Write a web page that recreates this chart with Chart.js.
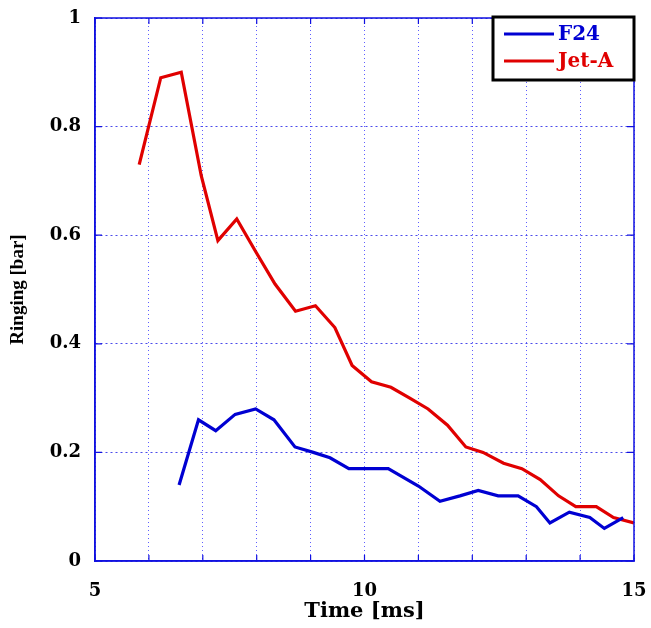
<!DOCTYPE html>
<html><head><meta charset="utf-8">
<script src="https://cdn.jsdelivr.net/npm/chart.js@4.4.1/dist/chart.umd.min.js"></script>
<style>html,body{margin:0;padding:0;background:#fff}#wrap{width:651px;height:628px}</style>
</head><body><div id="wrap"><canvas id="c" width="651" height="628"></canvas></div>
<script>
const seriesNames = ['F24', 'Jet-A'];
const f24Time   = [6.56,6.92,7.24,7.6,7.98,8.32,8.71,9.05,9.36,9.71,10.08,10.44,11.0,11.4,11.77,12.11,12.48,12.85,13.19,13.44,13.8,14.18,14.45,14.8];
const f24Values = [0.14,0.26,0.24,0.27,0.28,0.26,0.21,0.20,0.19,0.17,0.17,0.17,0.138,0.11,0.12,0.13,0.12,0.12,0.10,0.07,0.09,0.08,0.06,0.08];
const jetATime   = [5.82,6.22,6.6,6.97,7.28,7.63,7.98,8.34,8.72,9.09,9.45,9.77,10.13,10.49,10.84,11.18,11.54,11.88,12.2,12.58,12.92,13.26,13.6,13.92,14.3,14.62,15.0];
const jetAValues = [0.73,0.89,0.90,0.71,0.59,0.63,0.57,0.51,0.46,0.47,0.43,0.36,0.33,0.32,0.30,0.28,0.25,0.21,0.20,0.18,0.17,0.15,0.12,0.10,0.10,0.08,0.07];
const xTickLabels = [5, 10, 15];
const yTickLabels = [0, 0.2, 0.4, 0.6, 0.8, 1];

const toPoints = (xs, ys) => xs.map((x, i) => ({x: x, y: ys[i]}));
const BLUE = '#0000d2', RED = '#e00000', AXIS = '#1010e0';

const framePlugin = {
  id: 'frame',
  afterDraw(chart) {
    const {ctx, chartArea: a, scales} = chart;
    ctx.save();
    ctx.strokeStyle = AXIS; ctx.lineWidth = 1.5; ctx.setLineDash([]);
    ctx.strokeRect(a.left, a.top, a.right - a.left, a.bottom - a.top);
    ctx.lineWidth = 1.2;
    ctx.beginPath();
    scales.x.ticks.forEach(t => {
      const px = scales.x.getPixelForValue(t.value);
      ctx.moveTo(px, a.bottom); ctx.lineTo(px, a.bottom - 6);
      ctx.moveTo(px, a.top); ctx.lineTo(px, a.top + 6);
    });
    scales.y.ticks.forEach(t => {
      const py = scales.y.getPixelForValue(t.value);
      ctx.moveTo(a.left, py); ctx.lineTo(a.left + 7, py);
      ctx.moveTo(a.right, py); ctx.lineTo(a.right - 7, py);
    });
    ctx.stroke();
    // legend box
    const w = 141, h = 63;
    const x0 = a.right - w, y0 = a.top - 1;
    ctx.fillStyle = '#fff';
    ctx.fillRect(x0, y0, w, h);
    ctx.strokeStyle = '#000'; ctx.lineWidth = 3;
    ctx.strokeRect(x0, y0, w, h);
    chart.data.datasets.forEach((ds, i) => {
      const y = y0 + 17 + i * 27;
      ctx.strokeStyle = ds.borderColor; ctx.lineWidth = 3;
      ctx.beginPath(); ctx.moveTo(x0 + 11, y); ctx.lineTo(x0 + 61, y); ctx.stroke();
      ctx.fillStyle = ds.borderColor;
      ctx.font = 'bold 20px "DejaVu Serif"';
      ctx.textBaseline = 'middle'; ctx.textAlign = 'left';
      ctx.fillText(ds.label, x0 + 65, y + 1);
    });
    ctx.restore();
  }
};

new Chart(document.getElementById('c'), {
  type: 'line',
  data: {
    datasets: [
      {label: seriesNames[0], data: toPoints(f24Time, f24Values), borderColor: BLUE, backgroundColor: BLUE, borderWidth: 3.2, pointRadius: 0, tension: 0, fill: false},
      {label: seriesNames[1], data: toPoints(jetATime, jetAValues), borderColor: RED, backgroundColor: RED, borderWidth: 3.2, pointRadius: 0, tension: 0, fill: false}
    ]
  },
  options: {
    responsive: false,
    animation: false,
    devicePixelRatio: 1,
    layout: {padding: {top: 18, right: 17, left: 0, bottom: 0}},
    plugins: {legend: {display: false}, tooltip: {enabled: false}},
    scales: {
      x: {
        type: 'linear', min: 5, max: 15,
        afterFit: s => { s.height = 67; s.paddingLeft = 0; s.paddingRight = 0; },
        ticks: {
          stepSize: 1, autoSkip: false, maxRotation: 0, padding: 20, color: '#000',
          font: {family: '"DejaVu Serif"', weight: 'bold', size: 18},
          callback: v => xTickLabels.includes(v) ? String(v) : ''
        },
        grid: {color: 'rgba(40,40,255,0.75)', lineWidth: 1, drawTicks: false},
        border: {display: true, color: AXIS, width: 1.5, dash: [1, 3]},
        title: {display: true, text: 'Time [ms]', color: '#000', padding: {top: 0, bottom: 4},
          font: {family: '"DejaVu Serif"', weight: 'bold', size: 21}}
      },
      y: {
        min: 0, max: 1,
        afterFit: s => { s.width = 95; s.paddingTop = 0; s.paddingBottom = 0; },
        afterBuildTicks: s => { s.ticks = yTickLabels.map(v => ({value: v})); },
        ticks: {
          padding: 14, color: '#000',
          font: {family: '"DejaVu Serif"', weight: 'bold', size: 18},
          callback: v => String(v)
        },
        grid: {color: 'rgba(30,30,230,0.8)', lineWidth: 1, drawTicks: false},
        border: {display: true, color: AXIS, width: 1.5, dash: [2, 3]},
        title: {display: true, text: 'Ringing [bar]', color: '#000', padding: {top: 7, bottom: 0},
          font: {family: '"Liberation Serif"', weight: 'bold', size: 19}}
      }
    }
  },
  plugins: [framePlugin]
});
</script>
</body></html>
